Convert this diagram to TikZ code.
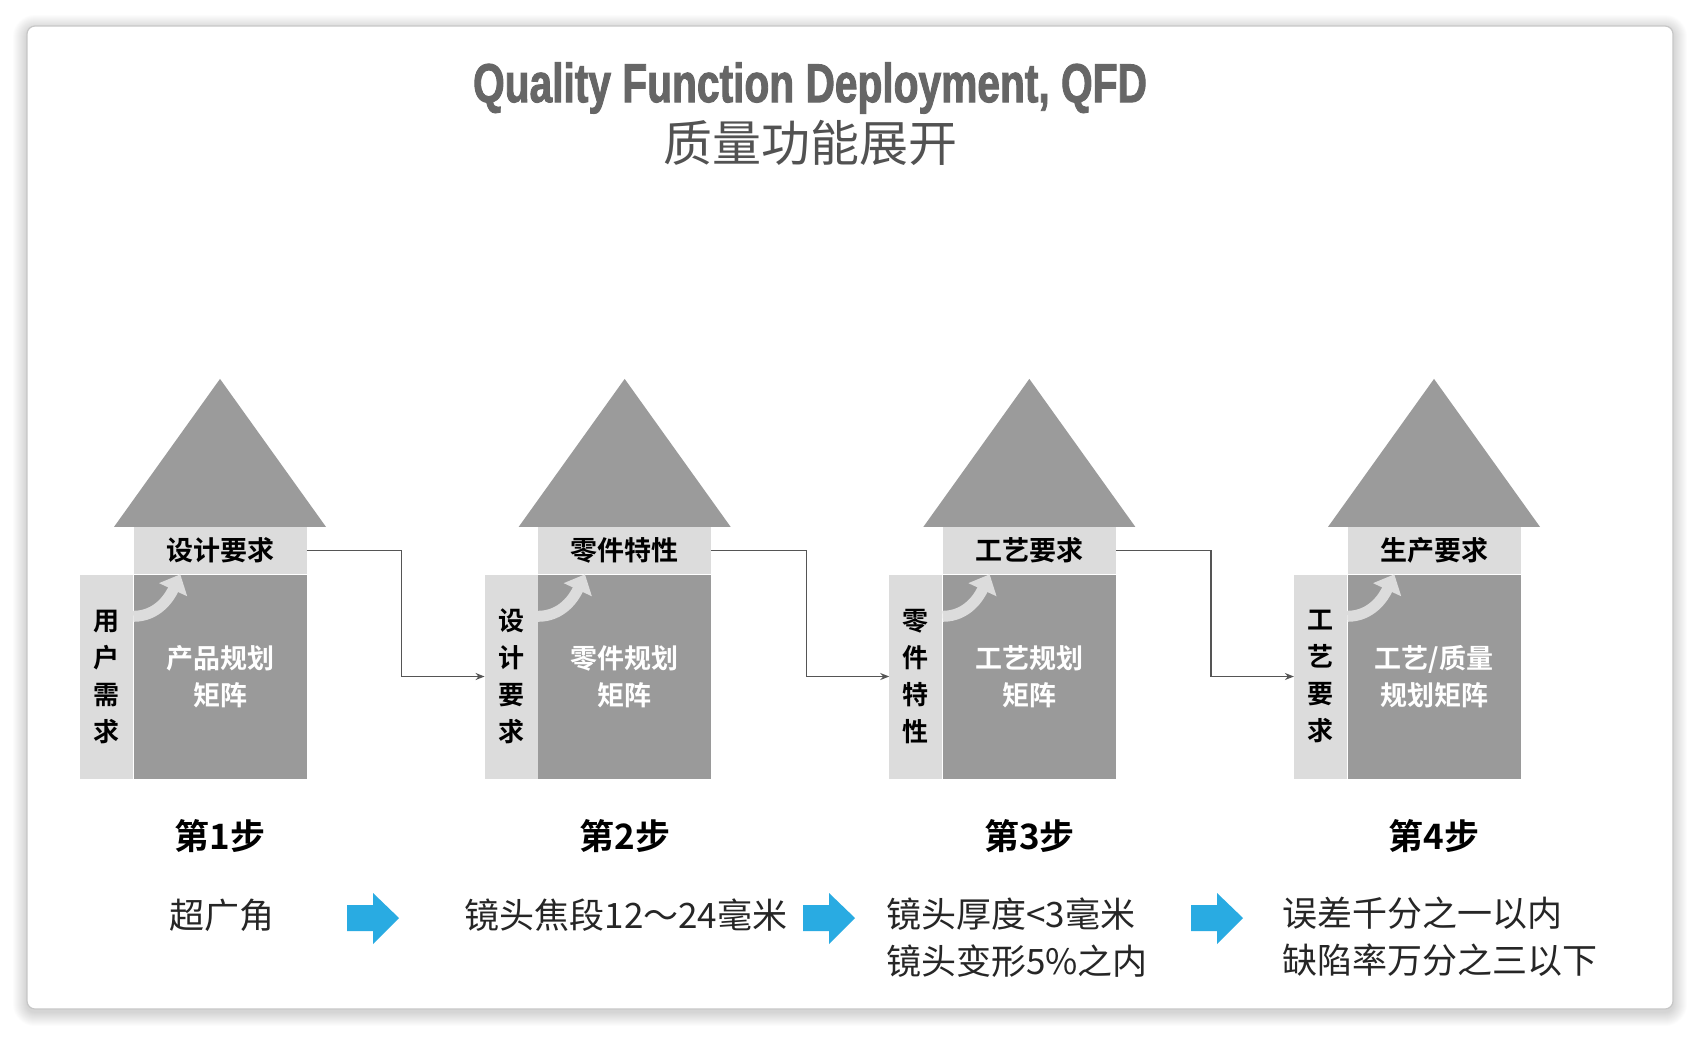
\documentclass[tikz,border=0pt]{standalone}
\usepackage{fontspec}
\newfontfamily\cjk[BoldFont={Noto Sans CJK SC Bold}]{Noto Sans CJK SC}
\newfontfamily\titlefont[FakeStretch=0.74,FakeBold=1.6]{Liberation Sans}
\usetikzlibrary{arrows.meta,calc,positioning}

\definecolor{roofgray}{HTML}{9B9B9B}
\definecolor{bodygray}{HTML}{9A9A9A}
\definecolor{bargray}{HTML}{DCDCDC}
\definecolor{qblue}{HTML}{29ABE2}
\definecolor{linegray}{HTML}{555555}
\definecolor{titlegray}{HTML}{666666}

\tikzset{
  topbar/.style={fill=bargray, minimum width=173, minimum height=47, inner sep=0, font=\cjk\bfseries\fontsize{27}{30}\selectfont},
  sidecol/.style={fill=bargray, minimum width=53, minimum height=204, inner sep=0, align=center, font=\cjk\bfseries\fontsize{26}{37}\selectfont},
  matrixbox/.style={fill=bodygray, minimum width=173, minimum height=204, inner sep=0, align=center, text=white, font=\cjk\bfseries\fontsize{27}{37}\selectfont},
  steplabel/.style={font=\cjk\bfseries\fontsize{35}{40}\selectfont},
  desc/.style={font=\cjk\fontsize{35}{47}\selectfont, text=black!85, inner sep=0},
  link/.style={linegray, line width=1.3, -{Stealth[length=9,width=7]}}
}

\begin{document}
\begin{tikzpicture}[x=1pt, y=-1pt]
    \useasboundingbox (0,0) rectangle (1701,1037);
    \fill[white] (0,0) rectangle (1701,1037);
    % card with soft shadow
    \foreach \k [evaluate=\k as \rr using 8+\k] in {1,...,14}
        {\fill[black, opacity=0.012, rounded corners=\rr pt] (27-\k,26-\k+3) rectangle (1673+\k,1009+\k+3);}
    \draw[black!22, line width=1.2, fill=white, rounded corners=8] (27,26) rectangle (1673,1009);
    \node[font=\titlefont\bfseries\fontsize{55}{60}\selectfont, text=titlegray] (title) at (810,88) {Quality Function Deployment, QFD};
    \node[font=\cjk\fontsize{49}{52}\selectfont, text=black!68] (subtitle) at (810,143) {质量功能展开};
    % four houses
    \foreach \i/\toptxt/\sidetxt/\bodytxt [evaluate=\i as \cx using 220+(\i-1)*404.67] in
        {1/设计要求/{用\\户\\需\\求}/{产品规划\\矩阵},
         2/零件特性/{设\\计\\要\\求}/{零件规划\\矩阵},
         3/工艺要求/{零\\件\\特\\性}/{工艺规划\\矩阵},
         4/生产要求/{工\\艺\\要\\求}/{工艺/质量\\规划矩阵}} {
        \node[matrixbox] (b\i) at (\cx,676.5) {\bodytxt};
        \node[topbar, above=0pt of b\i] (t\i) {\toptxt};
        \node[sidecol, left=0pt of b\i] (s\i) {\sidetxt};
        \fill[roofgray] ($(t\i.north)+(-106,0)$) -- ($(t\i.north)+(106,0)$) -- ($(t\i.north)+(0,-148)$) -- cycle;
        \draw[bargray, line width=11, -{Triangle[length=17,width=30]}] ([yshift=-42pt]b\i.north west) to[out=0, in=-115] ([xshift=47pt]b\i.north west);
        \node[steplabel] (n\i) at (\cx,836) {第\i{}步};
    }
    \foreach \i [count=\j from 2] in {1,2,3}
        {\draw[link] (t\i.east) -- ++(95,0) |- (s\j.west);}
    % targets per step
    \node[desc] (d1) at (222,915) {超广角};
    \node[desc] (d2) at (626,915) {镜头焦段12～24毫米};
    \node[desc, anchor=west, align=left] (d3) at (886,938) {镜头厚度<3毫米\\镜头变形5\%之内};
    \node[desc, anchor=west, align=left] (d4) at (1282,937) {误差千分之一以内\\缺陷率万分之三以下};
    \foreach \ax in {347,803,1191}
        {\fill[qblue] (\ax,905) -- ++(26,0) -- ++(0,-12) -- ++(26,25) -- ++(-26,26) -- ++(0,-13) -- ++(-26,0) -- cycle;}
\end{tikzpicture}
\end{document}
